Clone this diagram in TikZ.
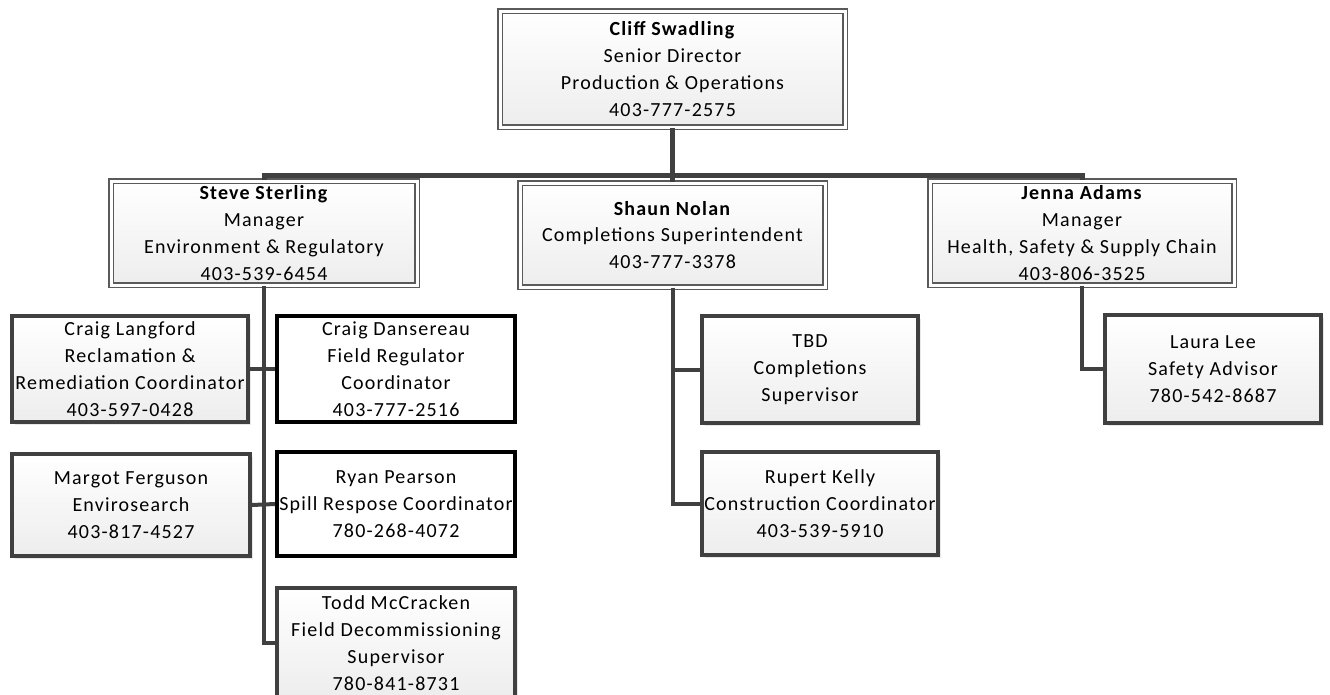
\documentclass[tikz,border=0pt]{standalone}
\usepackage{fontspec}
\setmainfont{Carlito}[LetterSpace=6]
\usetikzlibrary{shadows}

\definecolor{linegray}{HTML}{404040}
\definecolor{framegray}{HTML}{5A5A5A}

\tikzset{
  boxfont/.style={font=\fontsize{20}{26.8}\selectfont},
  headbox/.style={rectangle, draw=framegray, line width=1.1pt, double=white, double distance=3pt,
    top color=white, bottom color=gray!14,
    drop shadow={shadow xshift=3pt, shadow yshift=-3pt, fill=gray!35},
    align=center, inner sep=0pt, boxfont},
  staffbox/.style={rectangle, draw=linegray, line width=3.5pt,
    top color=white, bottom color=gray!14,
    drop shadow={shadow xshift=3pt, shadow yshift=-3pt, fill=gray!35},
    align=center, inner sep=0pt, boxfont},
  keybox/.style={rectangle, draw=black, line width=4pt, fill=white,
    align=center, inner sep=0pt, boxfont},
  conn/.style={draw=linegray, line width=5pt},
  subconn/.style={draw=linegray, line width=4pt}
}

\begin{document}
\begin{tikzpicture}[x=1pt,y=-1pt]
\useasboundingbox (0,0) rectangle (1330,694);

% senior director node
\node[headbox, minimum width=345, minimum height=116] (cliff) at (672.5,69)
  {\textbf{Cliff Swadling}\\Senior Director\\Production \& Operations\\403-777-2575};

% manager nodes
\node[headbox, minimum width=306, minimum height=104] (steve) at (264,233)
  {\textbf{Steve Sterling}\\Manager\\Environment \& Regulatory\\403-539-6454};
\node[headbox, minimum width=305, minimum height=104] (shaun) at (672.5,235)
  {\textbf{Shaun Nolan}\\Completions Superintendent\\403-777-3378};
\node[headbox, minimum width=304, minimum height=104] (jenna) at (1082,233)
  {\textbf{Jenna Adams}\\Manager\\Health, Safety \& Supply Chain\\403-806-3525};

% environment staff nodes
\node[staffbox, minimum width=236, minimum height=106] (langford) at (130,369)
  {Craig Langford\\Reclamation \&\\Remediation Coordinator\\403-597-0428};
\node[keybox, minimum width=238, minimum height=106] (dansereau) at (396,369)
  {Craig Dansereau\\Field Regulator\\Coordinator\\403-777-2516};
\node[staffbox, minimum width=238, minimum height=102] (ferguson) at (131,505)
  {Margot Ferguson\\Envirosearch\\403-817-4527};
\node[keybox, minimum width=238, minimum height=104] (pearson) at (396,504)
  {Ryan Pearson\\Spill Respose Coordinator\\780-268-4072};
\node[staffbox, minimum width=238, minimum height=110] (mccracken) at (396,643)
  {Todd McCracken\\Field Decommissioning\\Supervisor\\780-841-8731};

% completions staff nodes
\node[staffbox, minimum width=216, minimum height=107] (tbd) at (810,369.5)
  {TBD\\Completions\\Supervisor};
\node[staffbox, minimum width=236, minimum height=103] (kelly) at (820,503.5)
  {Rupert Kelly\\Construction Coordinator\\403-539-5910};

% safety staff node
\node[staffbox, minimum width=216, minimum height=108] (lee) at (1213,369)
  {Laura Lee\\Safety Advisor\\780-542-8687};

% top level connectors
\coordinate (bar) at (672.5,175);
\draw[conn] (cliff.south) -- (shaun.north);
\draw[conn] (steve.north) |- (bar) -| (jenna.north);

% environment connectors
\draw[subconn] (steve.south) |- (mccracken.west);
\draw[subconn] (langford.east) -- (dansereau.west);
\draw[subconn] (ferguson.east) -- (pearson.west);

% completions connectors
\draw[subconn] (shaun.south) |- (tbd.west);
\draw[subconn] (shaun.south) |- (kelly.west);

% safety connector
\draw[subconn] (jenna.south) |- (lee.west);

\end{tikzpicture}
\end{document}
